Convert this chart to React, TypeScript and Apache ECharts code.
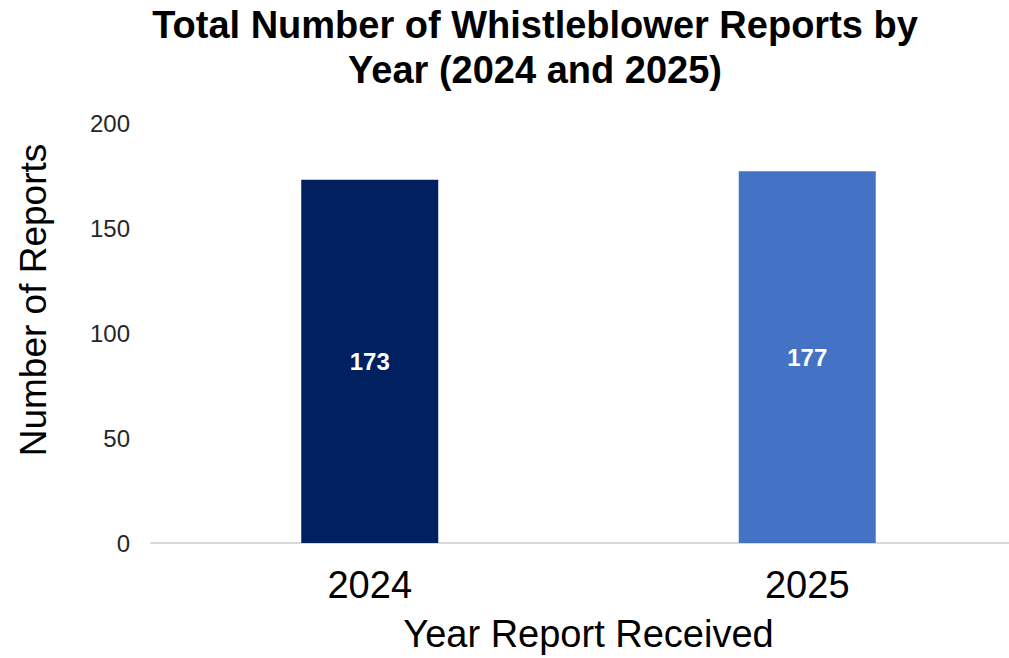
import React, { useEffect, useRef } from "react";
import * as echarts from "echarts";

const titleLines = ["Total Number of Whistleblower Reports by", "Year (2024 and 2025)"];
const categories = ["2024", "2025"];
const reportCounts = [173, 177];
const barColors = ["#002060", "#4472C4"];
const yAxisName = "Number of Reports";
const xAxisName = "Year Report Received";

export default function App() {
  const ref = useRef<HTMLDivElement>(null);
  useEffect(() => {
    if (!ref.current) return;
    const chart = echarts.init(ref.current, undefined, { renderer: "svg" });
    const font = "'Liberation Sans', Arial, sans-serif";
    chart.setOption({
      animation: false,
      backgroundColor: "#ffffff",
      title: {
        text: titleLines.join("\n"),
        left: 530,
        top: -3,
        textAlign: "center",
        textStyle: {
          fontFamily: font,
          fontWeight: "bold",
          fontSize: 38,
          lineHeight: 45,
          color: "#000000",
        },
      },
      grid: { left: 151, right: 0, top: 123, bottom: 112, containLabel: false },
      xAxis: {
        type: "category",
        data: categories,
        axisLine: { show: true, lineStyle: { color: "#d9d9d9", width: 2 } },
        axisTick: { show: false },
        axisLabel: { fontFamily: font, fontSize: 38, color: "#000000", margin: 23 },
        name: xAxisName,
        nameLocation: "middle",
        nameGap: 72,
        nameTextStyle: { fontFamily: font, fontSize: 38, color: "#000000" },
      },
      yAxis: {
        type: "value",
        min: 0,
        max: 200,
        interval: 50,
        splitLine: { show: false },
        axisLine: { show: false },
        axisTick: { show: false },
        axisLabel: { fontFamily: font, fontSize: 24, color: "#262626", margin: 21 },
      },
      graphic: [
        {
          type: "text",
          x: 33,
          y: 300,
          rotation: Math.PI / 2,
          style: {
            text: yAxisName,
            fontFamily: font,
            fontSize: 37,
            fill: "#000000",
            textAlign: "center",
            textVerticalAlign: "middle",
          },
        },
      ],
      series: [
        {
          type: "bar",
          barWidth: 137,
          data: reportCounts.map((v, i) => ({ value: v, itemStyle: { color: barColors[i] } })),
          label: {
            show: true,
            position: "inside",
            fontFamily: font,
            fontWeight: "bold",
            fontSize: 24,
            color: "#ffffff",
          },
        },
      ],
    });
    return () => chart.dispose();
  }, []);
  return (
    <div style={{ position: "fixed", left: 0, top: 0, width: 1009, height: 658, overflow: "hidden" }}>
      <div ref={ref} style={{ position: "absolute", left: 0, top: 0, width: 1026, height: 658 }} />
    </div>
  );
}
